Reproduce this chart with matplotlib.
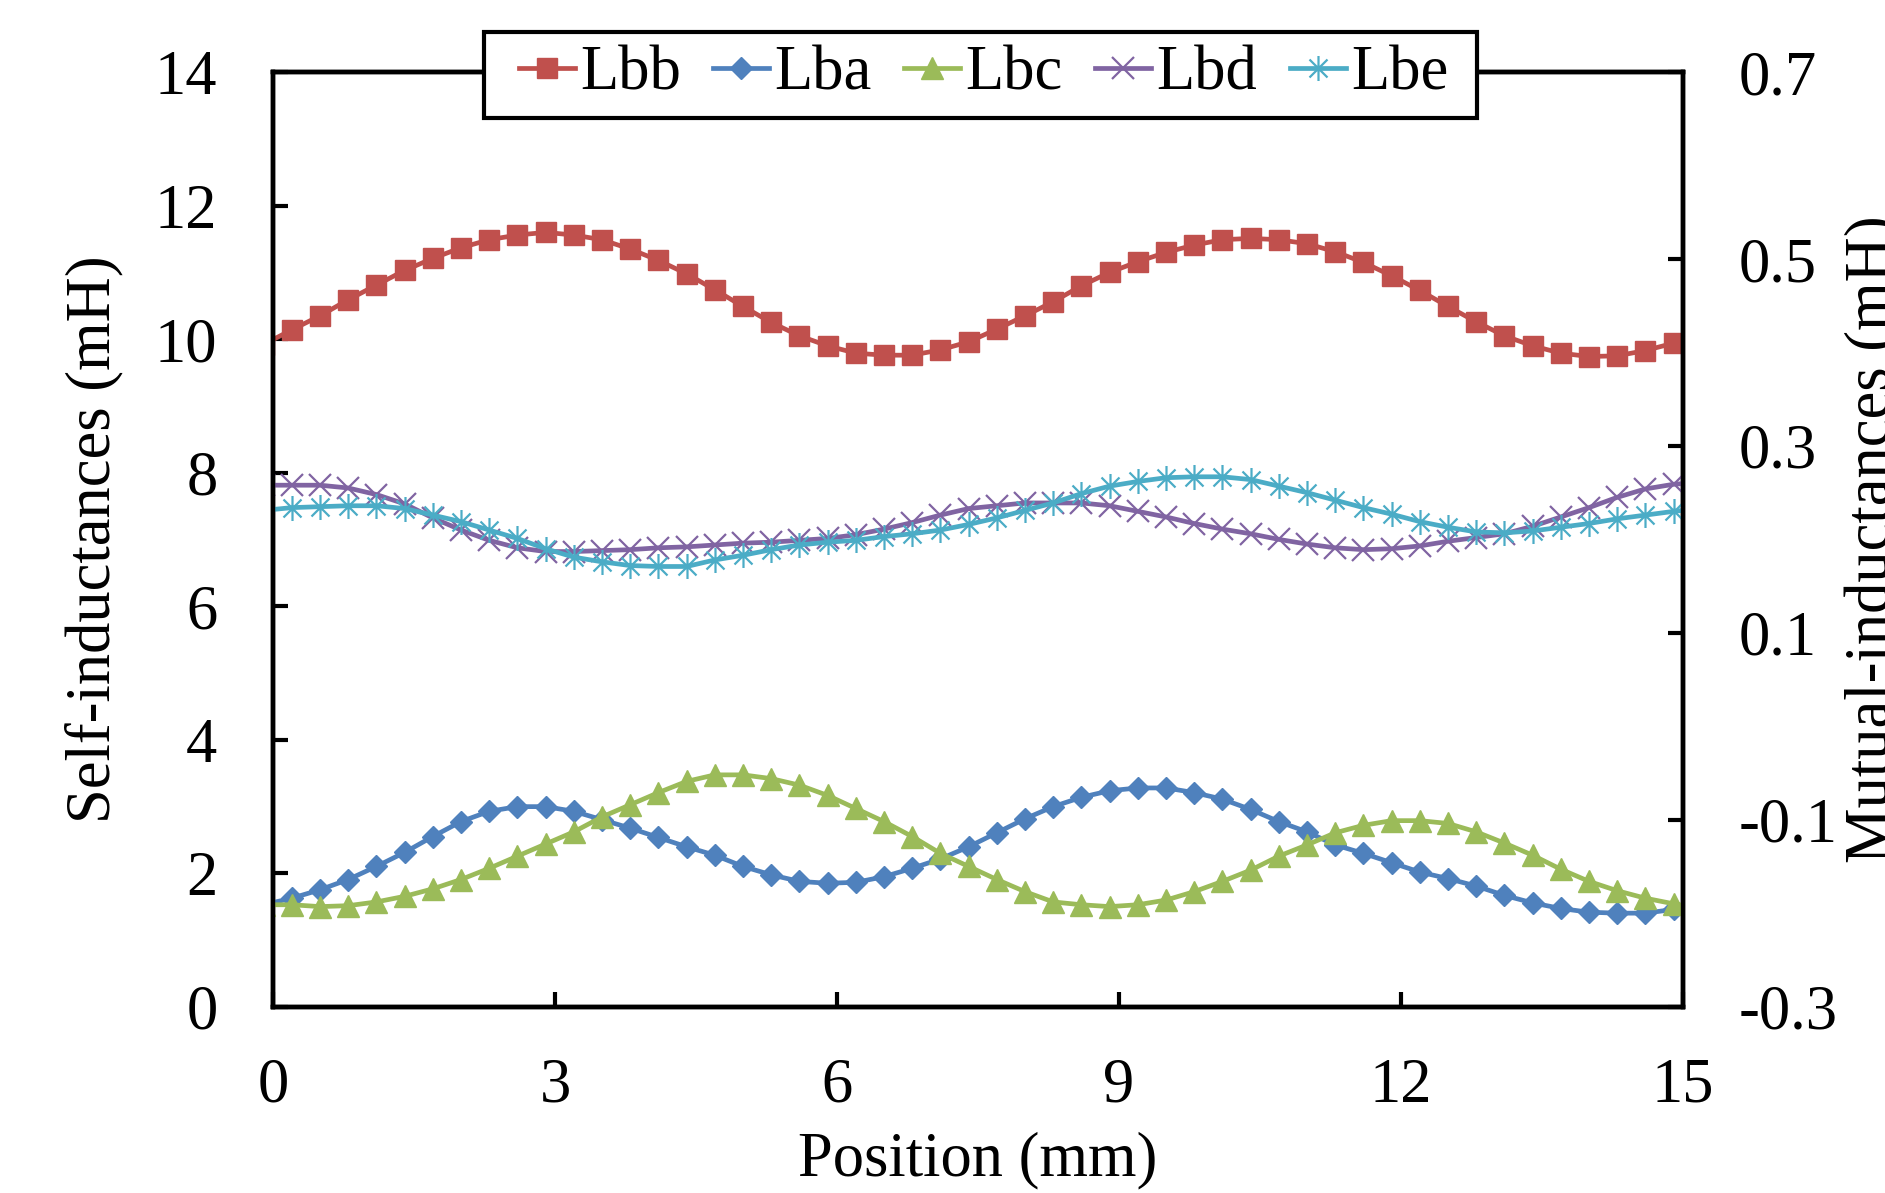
import matplotlib
matplotlib.use("Agg")
import matplotlib.pyplot as plt
from matplotlib.path import Path
from matplotlib.patches import Rectangle

plt.rcParams['font.family'] = ['Liberation Serif', 'DejaVu Serif']
plt.rcParams['font.size'] = 45
plt.rcParams['axes.unicode_minus'] = False

# Positions (mm) of the sampled points
position = [-0.1, 0.2, 0.5, 0.8, 1.1, 1.4, 1.7, 2.0, 2.3, 2.6,
            2.9, 3.2, 3.5, 3.8, 4.1, 4.4, 4.7, 5.0, 5.3, 5.6,
            5.9, 6.2, 6.5, 6.8, 7.1, 7.4, 7.7, 8.0, 8.3, 8.6,
            8.9, 9.2, 9.5, 9.8, 10.1, 10.4, 10.7, 11.0, 11.3, 11.6,
            11.9, 12.2, 12.5, 12.8, 13.1, 13.4, 13.7, 14.0, 14.3, 14.6,
            14.9, 15.2]

# Self-inductance (mH), left axis
Lbb = [9.92, 10.14, 10.35, 10.59, 10.81, 11.03, 11.21, 11.37, 11.49, 11.56,
       11.60, 11.56, 11.49, 11.35, 11.18, 10.98, 10.74, 10.49, 10.25, 10.05,
       9.90, 9.79, 9.76, 9.76, 9.84, 9.96, 10.15, 10.35, 10.56, 10.80,
       11.00, 11.16, 11.30, 11.41, 11.49, 11.51, 11.49, 11.43, 11.31, 11.15,
       10.95, 10.73, 10.49, 10.26, 10.05, 9.90, 9.79, 9.74, 9.75, 9.83,
       9.94, 10.10]

# Mutual inductances (mH), right axis
Lba = [-0.191, -0.184, -0.175, -0.164, -0.150, -0.135, -0.118, -0.102, -0.091, -0.086,
       -0.086, -0.091, -0.100, -0.109, -0.119, -0.129, -0.138, -0.150, -0.159, -0.166,
       -0.168, -0.167, -0.161, -0.152, -0.142, -0.129, -0.114, -0.099, -0.086, -0.076,
       -0.069, -0.066, -0.066, -0.071, -0.078, -0.089, -0.102, -0.113, -0.127, -0.136,
       -0.146, -0.156, -0.163, -0.171, -0.181, -0.189, -0.195, -0.199, -0.200, -0.200,
       -0.196, -0.191]
Lbc = [-0.191, -0.191, -0.193, -0.192, -0.188, -0.182, -0.174, -0.164, -0.152, -0.139,
       -0.126, -0.113, -0.097, -0.084, -0.071, -0.059, -0.052, -0.052, -0.056, -0.063,
       -0.074, -0.088, -0.102, -0.118, -0.136, -0.150, -0.164, -0.177, -0.188, -0.191,
       -0.193, -0.191, -0.186, -0.177, -0.166, -0.154, -0.139, -0.127, -0.114, -0.106,
       -0.101, -0.101, -0.104, -0.113, -0.125, -0.138, -0.153, -0.166, -0.176, -0.184,
       -0.190, -0.195]
Lbd = [0.258, 0.258, 0.258, 0.255, 0.248, 0.238, 0.223, 0.210, 0.199, 0.191,
       0.187, 0.187, 0.188, 0.189, 0.191, 0.192, 0.194, 0.196, 0.197, 0.199,
       0.201, 0.205, 0.211, 0.218, 0.226, 0.233, 0.236, 0.239, 0.239, 0.239,
       0.236, 0.230, 0.224, 0.217, 0.211, 0.206, 0.200, 0.195, 0.191, 0.189,
       0.190, 0.193, 0.198, 0.202, 0.206, 0.214, 0.224, 0.234, 0.245, 0.254,
       0.259, 0.261]
Lbe = [0.231, 0.234, 0.235, 0.236, 0.236, 0.233, 0.226, 0.219, 0.210, 0.201,
       0.190, 0.181, 0.176, 0.172, 0.171, 0.171, 0.178, 0.183, 0.189, 0.194,
       0.197, 0.199, 0.203, 0.206, 0.210, 0.216, 0.223, 0.231, 0.239, 0.249,
       0.257, 0.262, 0.266, 0.267, 0.267, 0.264, 0.257, 0.250, 0.242, 0.234,
       0.227, 0.219, 0.213, 0.208, 0.207, 0.209, 0.213, 0.217, 0.222, 0.226,
       0.230, 0.233]

x_ticks = [0, 3, 6, 9, 12, 15]
left_ticks = [0, 2, 4, 6, 8, 10, 12, 14]
right_ticks = [-0.3, -0.1, 0.1, 0.3, 0.5, 0.7]
right_ticklabels = ["-0.3", "-0.1", "0.1", "0.3", "0.5", "0.7"]

colors = {"Lbb": "#C0504D", "Lba": "#4F81BD", "Lbc": "#9BBB59",
          "Lbd": "#8064A2", "Lbe": "#4BACC6"}

star = Path([(0, -1), (0, 1), (-0.72, -0.72), (0.72, 0.72), (-0.72, 0.72), (0.72, -0.72)],
            [Path.MOVETO, Path.LINETO, Path.MOVETO, Path.LINETO, Path.MOVETO, Path.LINETO])

fig = plt.figure(figsize=(18.85, 11.93), dpi=100)
ax = fig.add_axes([0.14483, 0.15625, 0.74801, 0.78324])
ax2 = ax.twinx()

lw = 3.4
h1, = ax.plot(position, Lbb, color=colors["Lbb"], lw=lw, marker='s', ms=14,
              mec=colors["Lbb"], mfc=colors["Lbb"], label="Lbb")
h2, = ax2.plot(position, Lba, color=colors["Lba"], lw=lw, marker='D', ms=11,
               mec=colors["Lba"], mfc=colors["Lba"], label="Lba")
h3, = ax2.plot(position, Lbc, color=colors["Lbc"], lw=lw, marker='^', ms=16,
               mec=colors["Lbc"], mfc=colors["Lbc"], label="Lbc")
h4, = ax2.plot(position, Lbd, color=colors["Lbd"], lw=lw, marker='x', ms=16,
               mew=1.6, mec=colors["Lbd"], label="Lbd")
h5, = ax2.plot(position, Lbe, color=colors["Lbe"], lw=lw, marker=star, ms=18,
               mew=1.6, mec=colors["Lbe"], label="Lbe")

ax.set_xlim(0, 15)
ax.set_ylim(0, 14)
ax2.set_ylim(-0.3, 0.7)
ax.set_xticks(x_ticks)
ax.set_yticks(left_ticks)
ax2.set_yticks(right_ticks)
ax2.set_yticklabels(right_ticklabels)

for a in (ax, ax2):
    for s in a.spines.values():
        s.set_linewidth(3.2)
        s.set_color('black')

ax.tick_params(axis='x', direction='in', length=11, width=3, pad=37, top=False)
ax.tick_params(axis='y', direction='in', length=11, width=3, pad=40, right=False)
ax2.tick_params(axis='y', direction='in', length=11, width=3, pad=40)

ax.set_xlabel("Position (mm)", labelpad=11)
ax.set_ylabel("Self-inductances (mH)")
ax.yaxis.set_label_coords(-0.106, 0.5)
ax2.set_ylabel("Mutual-inductances (mH)")
ax2.yaxis.set_label_coords(1.115, 0.5)

# Legend box (drawn separately to get Excel-like padding)
box_x0, box_x1 = 484 / 1885, 1477 / 1885
box_y0, box_y1 = 1 - 118 / 1193, 1 - 31.7 / 1193
fig.add_artist(Rectangle((box_x0, box_y0), box_x1 - box_x0, box_y1 - box_y0,
                         transform=fig.transFigure, facecolor='white',
                         edgecolor='black', linewidth=3.0, zorder=4))

leg = fig.legend(handles=[h1, h2, h3, h4, h5], loc='center',
                 bbox_to_anchor=((box_x0 + box_x1) / 2 + 0.0015, (box_y0 + box_y1) / 2),
                 ncol=5, frameon=False, handlelength=0.9,
                 handletextpad=0.08, columnspacing=0.52, borderpad=0.0,
                 borderaxespad=0.0, fontsize=45)
leg.set_zorder(5)

fig.savefig("out.png", dpi=100)
